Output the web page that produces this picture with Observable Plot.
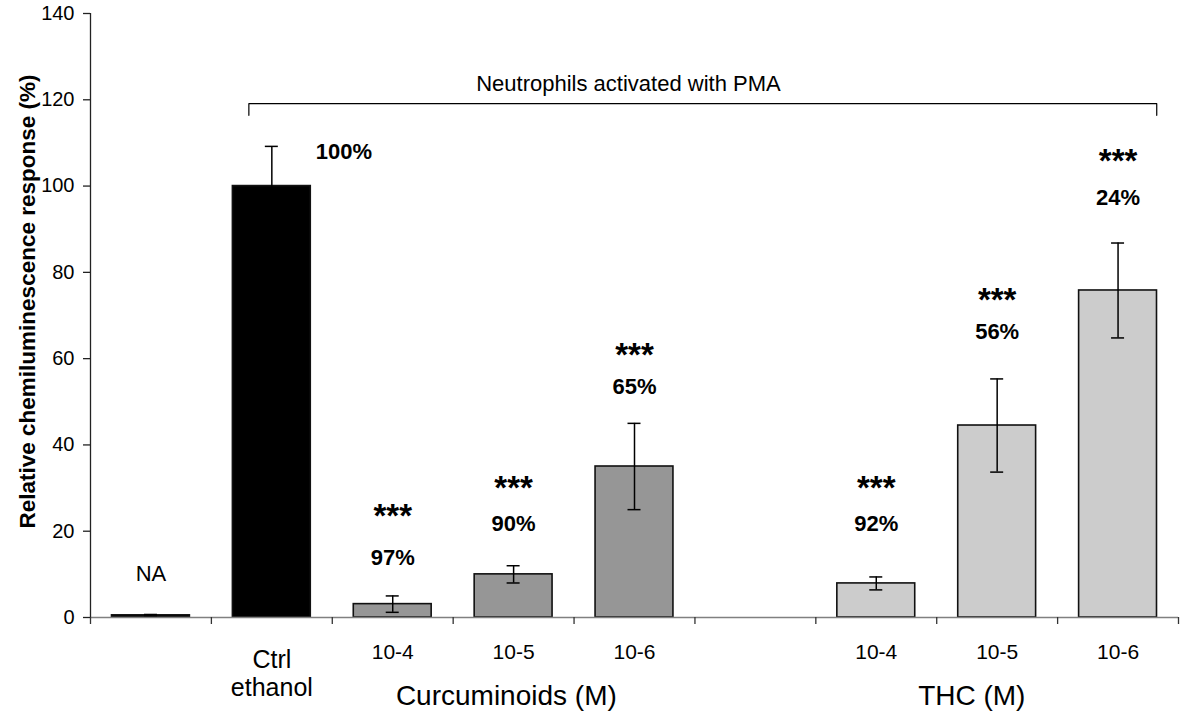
<!DOCTYPE html>
<html><head><meta charset="utf-8">
<script src="https://cdn.jsdelivr.net/npm/d3@7"></script>
<script src="https://cdn.jsdelivr.net/npm/@observablehq/plot@0.6"></script>
<style>
body{margin:0;background:#fff;}
#chart{width:1181px;height:713px;}
</style>
</head><body><div id="chart"></div>
<script>
// ---- data ----
const slotLabels = ["", "Ctrl\nethanol", "10-4", "10-5", "10-6", "", "10-4", "10-5", "10-6"];
const groups = ["NA", "Ctrl", "Curcuminoids", "Curcuminoids", "Curcuminoids", null, "THC", "THC", "THC"];
const means = [0.5, 100, 3.1, 10.0, 35.0, null, 7.9, 44.5, 75.8];
const errors = [0.2, 9.2, 1.9, 2.0, 10.0, null, 1.5, 10.8, 11.0];
const inhibition = [null, "100%", "97%", "90%", "65%", null, "92%", "56%", "24%"];
const inhibitionY = [null, 107.9, 13.9, 21.7, 53.4, null, 21.7, 66.1, 97.2];
const stars = [null, null, "***", "***", "***", null, "***", "***", "***"];
const starsY = [null, null, 25.2, 31.7, 62.7, null, 31.7, 75.4, 107.6];
const naLabel = "NA";
const naY = 10.2;
const groupNames = ["Curcuminoids (M)", "THC (M)"];
const groupCenters = [3.44, 7.29];
const yTicks = [0, 20, 40, 60, 80, 100, 120, 140];
const yLabel = "Relative chemiluminescence response (%)";
const bracketLabel = "Neutrophils activated with PMA";
const bracketLabelPos = {x: 4.45, y: 123.6};
const bracketX = [1.31, 8.82];
const bracketY = [116.4, 119.1];
const groupFill = {NA: "#000000", Ctrl: "#000000", Curcuminoids: "#969696", THC: "#cccccc"};

// ---- derived tables ----
const rows = means.map((m, i) => ({
  i, mean: m, err: errors[i], group: groups[i], label: slotLabels[i],
  pct: inhibition[i], pctY: inhibitionY[i], star: stars[i], starY: starsY[i]
}));
const bars = rows.filter(d => d.mean != null);
const boundaries = d3.range(slotLabels.length + 1);
const bracket = [
  {x: bracketX[0], y: bracketY[0]}, {x: bracketX[0], y: bracketY[1]},
  {x: bracketX[1], y: bracketY[1]}, {x: bracketX[1], y: bracketY[0]}
];
const font = "Liberation Sans, Arial, Helvetica, sans-serif";

const chart = Plot.plot({
  width: 1181,
  height: 713,
  marginLeft: 90,
  marginRight: 3,
  marginTop: 13,
  marginBottom: 96,
  style: {fontFamily: font, fontSize: "20px", color: "#000", background: "#fff", overflow: "visible"},
  x: {domain: [0, slotLabels.length], axis: null},
  y: {domain: [0, 140], axis: null},
  color: {type: "identity"},
  marks: [
    // bars
    Plot.rectY(bars, {
      x1: d => d.i, x2: d => d.i + 1, y1: 0, y2: "mean",
      insetLeft: 21.5, insetRight: 21.5,
      fill: d => groupFill[d.group], stroke: "#111", strokeWidth: 1.6
    }),
    // error bars
    Plot.ruleX(bars, {x: d => d.i + 0.5, y1: d => d.mean - d.err, y2: d => d.mean + d.err, stroke: "#000", strokeWidth: 1.5}),
    Plot.ruleY(bars, {y: d => d.mean + d.err, x1: d => d.i + 0.5, x2: d => d.i + 0.5, insetLeft: -6.5, insetRight: -6.5, stroke: "#000", strokeWidth: 1.5}),
    Plot.ruleY(bars, {y: d => d.mean - d.err, x1: d => d.i + 0.5, x2: d => d.i + 0.5, insetLeft: -6.5, insetRight: -6.5, stroke: "#000", strokeWidth: 1.5}),
    // axes
    Plot.ruleY([0], {stroke: "#808080", strokeWidth: 1.5}),
    Plot.ruleX(boundaries, {x: d => d, y1: 0, y2: 0, insetBottom: -7, stroke: "#333", strokeWidth: 1.3}),
    Plot.ruleX([0], {stroke: "#222", strokeWidth: 1.3}),
    Plot.axisY({ticks: yTicks, tickSize: 7, tickPadding: 9, fontSize: 20, label: null, stroke: "#222", strokeWidth: 1.3}),
    // x labels
    Plot.text(rows.filter(d => d.label && !d.label.includes("\n")), {
      x: d => d.i + 0.5, y: 0, text: "label", lineAnchor: "top", dy: 26.5, fontSize: 21
    }),
    Plot.text(rows.filter(d => d.label && d.label.includes("\n")), {
      x: d => d.i + 0.5, y: 0, text: "label", lineAnchor: "top", dy: 30, fontSize: 25, lineHeight: 1.13
    }),
    Plot.text(groupNames, {
      x: (d, i) => groupCenters[i], y: 0, text: d => d, lineAnchor: "top", dy: 68, fontSize: 28
    }),
    // y label
    Plot.text([yLabel], {frameAnchor: "left", textAnchor: "middle", lineAnchor: "middle", rotate: -90, dx: -63, dy: -14, fontSize: 22.5, fontWeight: "bold", text: d => d}),
    // bracket
    Plot.line(bracket, {x: "x", y: "y", stroke: "#000", strokeWidth: 1.2}),
    Plot.text([bracketLabel], {x: bracketLabelPos.x, y: bracketLabelPos.y, text: d => d, fontSize: 22}),
    // annotations
    Plot.text([naLabel], {x: 0.5, y: naY, text: d => d, fontSize: 22}),
    Plot.text(rows.filter(d => d.pct && d.group === "Ctrl"), {x: d => d.i + 0.5, y: "pctY", text: "pct", dx: 72, fontSize: 22, fontWeight: "bold"}),
    Plot.text(rows.filter(d => d.pct && d.group !== "Ctrl"), {x: d => d.i + 0.5, y: "pctY", text: "pct", fontSize: 22, fontWeight: "bold"}),
    Plot.text(rows.filter(d => d.star), {x: d => d.i + 0.5, y: "starY", text: "star", fontSize: 33, fontWeight: "bold", dy: 8})
  ]
});
document.getElementById("chart").appendChild(chart);
</script>
</body></html>
